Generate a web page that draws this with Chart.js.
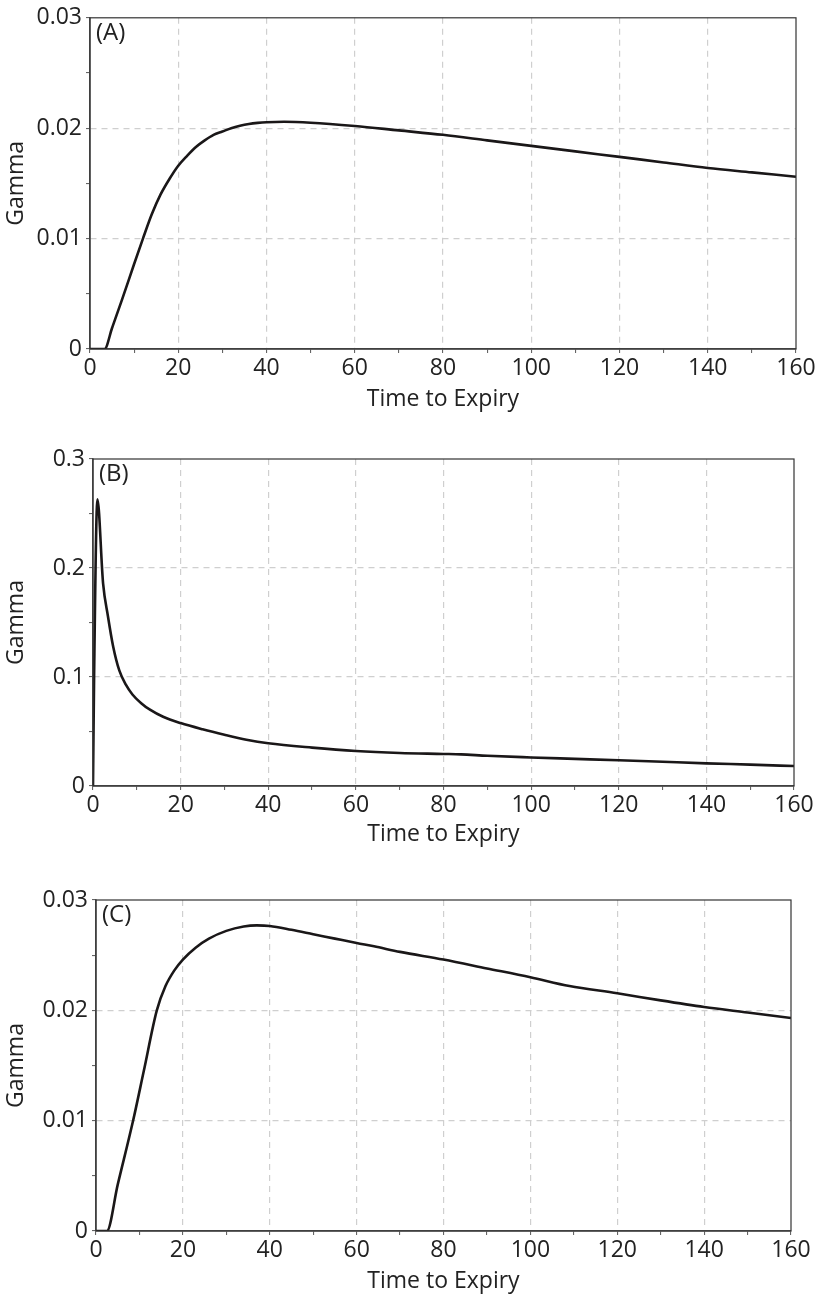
<!DOCTYPE html>
<html>
<head>
<meta charset="utf-8">
<script src="https://cdn.jsdelivr.net/npm/chart.js@4.4.0/dist/chart.umd.min.js"></script>
<style>
  html, body { margin: 0; padding: 0; background: #fff; }
  .panel { position: absolute; left: 0; width: 824px; }
  #panelA { top: 0; height: 420px; }
  #panelB { top: 420px; height: 440px; }
  #panelC { top: 860px; height: 437px; }
</style>
</head>
<body>
<div class="panel" id="panelA"><canvas id="gammaA"></canvas></div>
<div class="panel" id="panelB"><canvas id="gammaB"></canvas></div>
<div class="panel" id="panelC"><canvas id="gammaC"></canvas></div>
<script>
// time to expiry (x) and gamma (y)
const tA = [0, 1, 2, 3, 3.3, 5, 7.2, 10, 12, 14, 16, 18, 20, 22, 24, 26, 28, 30, 32, 34, 36, 38, 40, 44, 50, 60, 70, 80, 90, 100, 110, 120, 130, 140, 150, 160];
const gA = [0, 0, 0, 0, 0, 0.0019, 0.0044, 0.0077, 0.0100, 0.0122, 0.0140, 0.0154, 0.0166, 0.0175, 0.0183, 0.0189, 0.0194, 0.0197, 0.0200, 0.02022, 0.02038, 0.02048, 0.02054, 0.02058, 0.0205, 0.0202, 0.0198, 0.0194, 0.0189, 0.0184, 0.0179, 0.0174, 0.0169, 0.0164, 0.0160, 0.0156];

const tB = [0, 0.25, 1, 2.3, 3.4, 4.6, 6, 7.5, 9, 11, 13, 16, 20, 25, 30, 35, 40, 50, 60, 70, 80, 84, 90, 100, 110, 120, 130, 140, 150, 160];
const gB = [0, 0.10, 0.263, 0.186, 0.156, 0.128, 0.106, 0.093, 0.084, 0.076, 0.0700, 0.0635, 0.0577, 0.052, 0.047, 0.0425, 0.0392, 0.0352, 0.0321, 0.0303, 0.0294, 0.0290, 0.0277, 0.0262, 0.0249, 0.0236, 0.0222, 0.0208, 0.0196, 0.0183];

const tC = [0, 2.5, 5, 8.6, 11, 14, 16, 18, 20, 23, 26, 30, 34, 37, 40, 45, 50, 55, 60, 64, 70, 80, 90, 100, 109, 120, 130, 140, 150, 160];
const gC = [0, 0, 0.0042, 0.0101, 0.0145, 0.0200, 0.0222, 0.0236, 0.0246, 0.0257, 0.0265, 0.0272, 0.0276, 0.0277, 0.02765, 0.0273, 0.0269, 0.0265, 0.0261, 0.0258, 0.0253, 0.0246, 0.0238, 0.0230, 0.0222, 0.02155, 0.0209, 0.0203, 0.0198, 0.0193];

const panelLabels = ['(A)', '(B)', '(C)'];
const xTitle = 'Time to Expiry';
const yTitle = 'Gamma';

const FONT = "'Open Sans', 'Noto Sans', sans-serif";

// box round the plot area + panel letter
const frame = {
  id: 'frame',
  afterDraw(chart, args, opts) {
    const { ctx, chartArea: a } = chart;
    ctx.save();
    ctx.strokeStyle = '#333';
    ctx.lineWidth = 1.2;
    ctx.strokeRect(a.left, a.top, a.right - a.left, a.bottom - a.top);
    ctx.fillStyle = '#222';
    ctx.font = '24px ' + FONT;
    ctx.textBaseline = 'top';
    ctx.fillText(opts.label, a.left + 6, a.top + 3);
    ctx.restore();
  }
};

function near(v, step) {
  return Math.abs(v / step - Math.round(v / step)) < 1e-6;
}

function makeChart(id, t, g, cfg) {
  const ctx = document.getElementById(id).getContext('2d');
  return new Chart(ctx, {
    type: 'line',
    data: {
      datasets: [{
        data: t.map((x, i) => ({ x: x, y: g[i] })),
        borderColor: '#1a1718',
        borderWidth: 2.6,
        pointRadius: 0,
        fill: false,
        cubicInterpolationMode: 'monotone'
      }]
    },
    options: {
      animation: false,
      responsive: true,
      maintainAspectRatio: false,
      layout: { padding: { top: cfg.padTop, right: cfg.padRight, left: 0, bottom: 0 } },
      plugins: { legend: { display: false }, tooltip: { enabled: false }, frame: { label: cfg.label } },
      scales: {
        x: {
          type: 'linear',
          min: 0,
          max: 160,
          afterFit: s => { s.height = cfg.xHeight; },
          ticks: {
            stepSize: 10,
            autoSkip: false,
            maxRotation: 0,
            padding: 2,
            color: '#222',
            font: { family: FONT, size: 23 },
            callback: v => (near(v, 20) ? String(v) : '')
          },
          grid: {
            color: c => (near(c.tick.value, 20) && c.tick.value > 0 && c.tick.value < 160 ? '#cfcfcf' : 'rgba(0,0,0,0)'),
            lineWidth: 1.2,
            tickLength: 4,
            tickColor: '#555',
            tickWidth: 1
          },
          border: { color: '#555', width: 1.5, dash: [6, 5] },
          title: {
            display: true,
            text: xTitle,
            color: '#222',
            font: { family: FONT, size: 23 },
            padding: { top: 0, bottom: cfg.xTitlePad }
          }
        },
        y: {
          type: 'linear',
          min: 0,
          max: cfg.yMax,
          afterFit: s => { s.width = cfg.yWidth; },
          ticks: {
            stepSize: cfg.yStep / 2,
            autoSkip: false,
            padding: 4,
            color: '#222',
            font: { family: FONT, size: 23 },
            callback: v => (near(v, cfg.yStep) ? String(parseFloat(v.toFixed(3))) : '')
          },
          grid: {
            color: c => (near(c.tick.value, cfg.yStep) && c.tick.value > 1e-9 && c.tick.value < cfg.yMax - 1e-9 ? '#cfcfcf' : 'rgba(0,0,0,0)'),
            lineWidth: 1.2,
            tickLength: 4,
            tickColor: '#555',
            tickWidth: 1
          },
          border: { color: '#555', width: 1.5, dash: [6, 5] },
          title: {
            display: true,
            text: yTitle,
            color: '#222',
            font: { family: FONT, size: 23 },
            padding: { top: 3, bottom: 0 }
          }
        }
      }
    },
    plugins: [frame]
  });
}

makeChart('gammaA', tA, gA, { label: panelLabels[0], yMax: 0.03, yStep: 0.01, padTop: 16, padRight: 28, yWidth: 90, xHeight: 71, xTitlePad: 7 });
makeChart('gammaB', tB, gB, { label: panelLabels[1], yMax: 0.3, yStep: 0.1, padTop: 39, padRight: 30, yWidth: 93, xHeight: 74, xTitlePad: 12 });
makeChart('gammaC', tC, gC, { label: panelLabels[2], yMax: 0.03, yStep: 0.01, padTop: 40, padRight: 33, yWidth: 96, xHeight: 66, xTitlePad: 2 });
</script>
</body>
</html>
